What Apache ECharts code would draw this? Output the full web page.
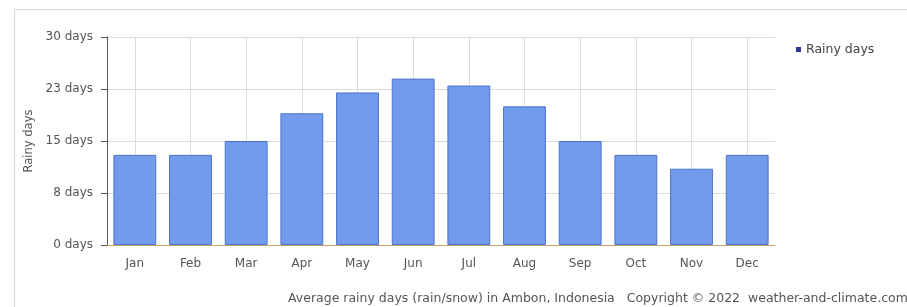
<!DOCTYPE html>
<html>
<head>
<meta charset="utf-8">
<title>Rainy days Ambon</title>
<script src="https://cdn.jsdelivr.net/npm/echarts@6/dist/echarts.min.js"></script>
<style>
    html, body { margin: 0; padding: 0; background: #fff; }
    #chart { width: 907px; height: 307px; }
</style>
</head>
<body>
<div id="chart"></div>
<script>
var months = ['Jan', 'Feb', 'Mar', 'Apr', 'May', 'Jun', 'Jul', 'Aug', 'Sep', 'Oct', 'Nov', 'Dec'];
var rainyDays = [13, 13, 15, 19, 22, 24, 23, 20, 15, 13, 11, 13];
var seriesName = 'Rainy days';
var footerText = 'Average rainy days (rain/snow) in Ambon, Indonesia   Copyright \u00a9 2022  weather-and-climate.com';

var labelFont = '"DejaVu Sans", Verdana, sans-serif';

var chart = echarts.init(document.getElementById('chart'));

var option = {
    animation: false,
    textStyle: { fontFamily: labelFont },
    grid: { left: 107, right: 132, top: 37, bottom: 62 },
    legend: {
        data: [seriesName],
        left: 791,
        top: 38,
        itemWidth: 5,
        itemHeight: 5,
        icon: 'rect',
        itemGap: 6,
        itemStyle: { color: '#2b3a9a', borderWidth: 0 },
        textStyle: { fontSize: 12.5, color: '#444', fontFamily: labelFont }
    },
    xAxis: {
        type: 'category',
        data: months,
        axisLine: { lineStyle: { color: '#c9a46a', width: 1 } },
        axisTick: { alignWithLabel: true, length: 6, lineStyle: { color: '#555' } },
        axisLabel: { color: '#555', fontSize: 12, margin: 13 },
        splitLine: { show: true, alignWithLabel: true, lineStyle: { color: '#dcdcdc' } }
    },
    yAxis: {
        type: 'value',
        min: 0,
        max: 30,
        interval: 7.5,
        name: 'Rainy days',
        nameLocation: 'middle',
        nameGap: 72,
        nameTextStyle: { color: '#555', fontSize: 11.5 },
        axisLine: { show: true, lineStyle: { color: '#555' } },
        axisTick: { show: true, length: 6, lineStyle: { color: '#555' } },
        axisLabel: {
            color: '#555',
            fontSize: 12,
            margin: 14,
            formatter: function (v) { return Math.round(v) + ' days'; }
        },
        splitLine: { lineStyle: { color: '#dcdcdc' } }
    },
    series: [{
        name: seriesName,
        type: 'bar',
        data: rainyDays,
        barCategoryGap: '23%',
        itemStyle: { color: '#729bee', borderColor: '#4f72c9', borderWidth: 1 }
    }],
    graphic: [
        {
            type: 'rect',
            shape: { x: 14.5, y: 9.5, width: 900, height: 310 },
            style: { fill: 'none', stroke: '#d6d6d6', lineWidth: 1 },
            silent: true,
            z: -10
        },
        {
            type: 'text',
            left: 288,
            top: 292,
            style: { text: footerText, fill: '#555', font: '12.5px ' + labelFont }
        }
    ]
};

chart.setOption(option);
</script>
</body>
</html>
